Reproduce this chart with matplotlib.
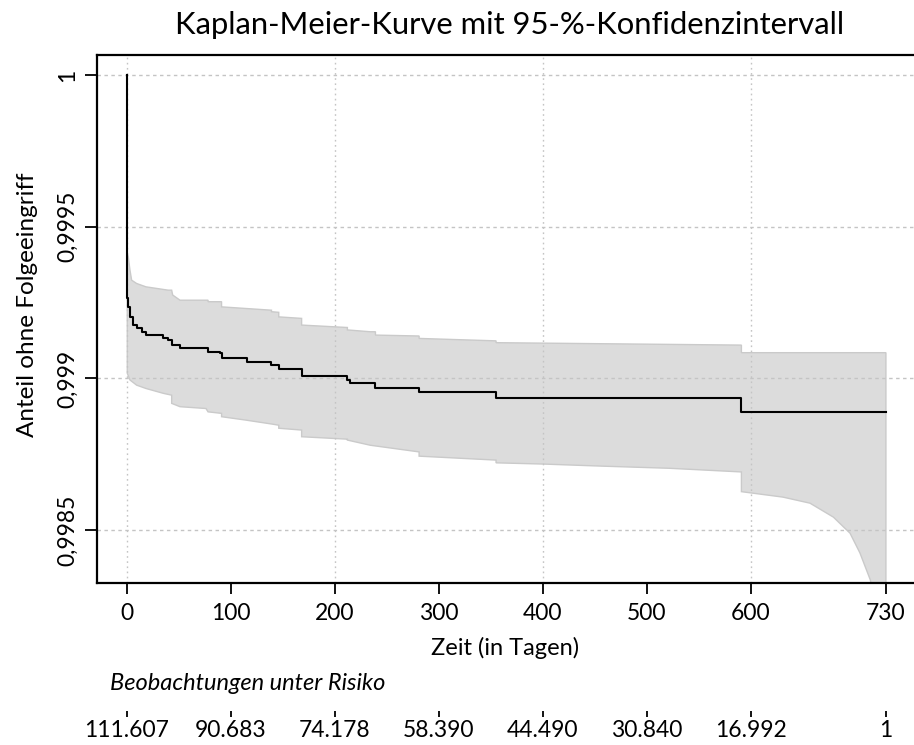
"""Kaplan-Meier-Kurve mit 95-%-KI und Risikotabelle."""
import numpy as np
import matplotlib
matplotlib.use("Agg")
import matplotlib.pyplot as plt

plt.rcParams["font.family"] = ["Lato", "DejaVu Sans"]

# KM-Schätzer: Zeitpunkte (Tage) und Anteil nach dem Sprung
km_t = [0, 0.3, 1.25, 2.9, 6, 9.3, 14, 18.3, 35, 39.7, 43, 51, 78, 89.5, 91,
        115, 139, 146, 168, 212, 215, 239, 281, 355, 591, 730]
km_s = [1.0, 0.999264, 0.999236, 0.999203, 0.999176, 0.999165, 0.999154,
        0.999143, 0.999132, 0.999127, 0.999110, 0.999099, 0.999088, 0.999083,
        0.999066, 0.999054, 0.999044, 0.999031, 0.999008, 0.998995, 0.998984,
        0.998969, 0.998954, 0.998936, 0.998890, 0.998890]

# obere Grenze des 95-%-KI (Eckpunkte)
ci_up_t = [0.3, 1.25, 2.9, 4.5, 9.3, 18.3, 39.7, 43, 44, 51, 78, 78, 91, 91,
           139, 139, 146, 146, 168, 168, 212, 212, 234, 239, 239, 281, 281,
           355, 355, 591, 591, 730]
ci_up_v = [0.999413, 0.999401, 0.999357, 0.999324, 0.999313, 0.999302,
           0.999291, 0.999291, 0.999275, 0.999258, 0.999258, 0.999253,
           0.999253, 0.999236, 0.999225, 0.999220, 0.999218, 0.999203,
           0.999198, 0.999176, 0.999168, 0.999160, 0.999154, 0.999154,
           0.999143, 0.999140, 0.999132, 0.999124, 0.999118, 0.999110,
           0.999085, 0.999085]

# untere Grenze des 95-%-KI (Eckpunkte)
ci_lo_t = [0.3, 2.9, 9.3, 18.3, 35, 43, 43, 51, 76, 78, 91, 91, 114, 139,
           146, 146, 168, 168, 212, 212, 234, 281, 281, 355, 355, 400, 458,
           522, 591, 591, 631, 657, 679.5, 695.5, 705, 715, 722, 730]
ci_lo_v = [0.999017, 0.998995, 0.998978, 0.998967, 0.998951, 0.998945,
           0.998918, 0.998907, 0.998901, 0.998890, 0.998885, 0.998874,
           0.998863, 0.998850, 0.998846, 0.998836, 0.998830, 0.998808,
           0.998800, 0.998797, 0.998780, 0.998758, 0.998744, 0.998731,
           0.998722, 0.998718, 0.998711, 0.998704, 0.998692, 0.998627,
           0.998609, 0.998589, 0.998543, 0.998490, 0.998425, 0.998336,
           0.998220, 0.998050]

x_ticks = [0, 100, 200, 300, 400, 500, 600, 730]
x_grid = [0, 200, 400, 600]
y_ticks = [1.0, 0.9995, 0.999, 0.9985]
y_tick_labels = ["1", "0,9995", "0,999", "0,9985"]
at_risk = ["111.607", "90.683", "74.178", "58.390", "44.490", "30.840",
           "16.992", "1"]

W, H = 914, 745
XLIM = (-29.1, 757)
fig = plt.figure(figsize=(W / 100, H / 100), dpi=100)
ax = fig.add_axes([96.7 / W, (H - 582.7) / H, 1 - 96.7 / W, 527.7 / H])

ax.fill(np.concatenate([ci_up_t, ci_lo_t[::-1]]),
        np.concatenate([ci_up_v, ci_lo_v[::-1]]),
        facecolor="#dcdcdc", edgecolor="#cacaca", lw=1.0, zorder=1)

for g in x_grid:
    ax.axvline(g, color="#c4c4c4", lw=1.0, ls=(0, (1.2, 2.5)), zorder=2)
for g in y_ticks:
    ax.axhline(g, color="#c4c4c4", lw=1.0, ls=(0, (2.5, 2.5)), zorder=2)

ax.step(km_t, km_s, where="post", color="black", lw=1.5, zorder=3)

ax.set_xlim(*XLIM)
ax.set_ylim(0.998327, 1.000066)
ax.set_xticks(x_ticks)
ax.set_yticks(y_ticks)
ax.set_yticklabels(y_tick_labels, rotation=90, va="center")
ax.tick_params(axis="x", length=7.6, width=1.3, pad=7, labelsize=16.5)
ax.tick_params(axis="y", length=8.6, width=1.3, pad=5, labelsize=16.5)
for side in ("top", "bottom", "left"):
    ax.spines[side].set_linewidth(1.6)
ax.spines["right"].set_visible(False)

fig.text(510 / W, 1 - 34.3 / H, "Kaplan-Meier-Kurve mit 95-%-Konfidenzintervall",
         ha="center", va="baseline", fontsize=22.3)
fig.text(ax.get_position().x0 + ax.get_position().width / 2, 1 - 655 / H,
         "Zeit (in Tagen)", ha="center", va="baseline", fontsize=17)
fig.text(28 / W, 1 - 305 / H, "Anteil ohne Folgeeingriff", rotation=90,
         ha="center", va="center", fontsize=17.5)

# Risikotabelle als eigene, rahmenlose Achse
fig.text(110 / W, 1 - 690 / H, "Beobachtungen unter Risiko", style="italic",
         ha="left", va="baseline", fontsize=17)
axr = fig.add_axes([96.7 / W, (H - 710.5) / H, 1 - 96.7 / W, 0.001])
axr.set_xlim(*XLIM)
axr.set_ylim(0, 1)
axr.set_yticks([])
for s in axr.spines.values():
    s.set_visible(False)
axr.set_xticks(x_ticks)
axr.set_xticklabels(at_risk)
axr.tick_params(axis="x", direction="out", length=4.0, width=1.3, pad=3,
                labelsize=16.5)
axr.patch.set_visible(False)

fig.savefig("out.png", dpi=100)
